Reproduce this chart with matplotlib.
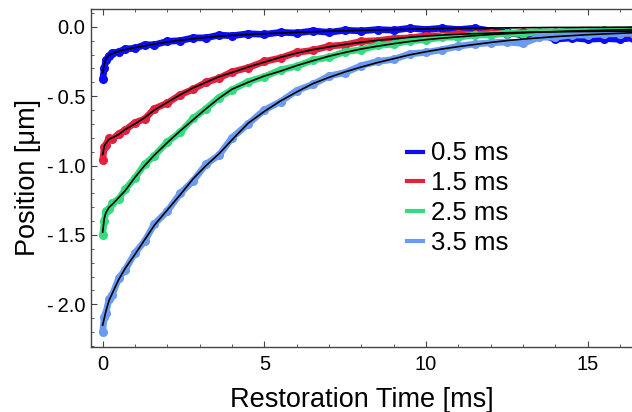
import matplotlib
matplotlib.use("Agg")
import matplotlib.pyplot as plt
from matplotlib.lines import Line2D
from matplotlib.ticker import MultipleLocator, FuncFormatter

plt.rcParams['font.family'] = ['Liberation Sans', 'DejaVu Sans']

# restoration time samples [ms]
t = [0, 0.05, 0.1, 0.2, 0.3, 0.5, 0.7, 1.0, 1.3, 1.6, 2.0, 2.4, 2.8, 3.2, 3.6,
     4.0, 4.5, 5, 5.5, 6, 6.5, 7, 7.5, 8, 8.5, 9, 9.5, 10, 10.5, 11, 11.5, 12,
     12.5, 13, 13.5, 14, 14.5, 15, 15.5, 16, 16.4]

labels = ["0.5 ms", "1.5 ms", "2.5 ms", "3.5 ms"]
colors = ["#0c0cf5", "#e3213f", "#36db7e", "#6a9bf0"]

# measured positions [um]
data_05 = [-0.38, -0.30, -0.24, -0.21, -0.19, -0.18, -0.16, -0.155, -0.13, -0.13,
           -0.105, -0.10, -0.08, -0.08, -0.06, -0.065, -0.05, -0.055, -0.04,
           -0.045, -0.03, -0.04, -0.025, -0.03, -0.02, -0.025, -0.01, -0.02,
           -0.01, -0.02, -0.01, -0.03, -0.04, -0.06, -0.05, -0.09, -0.08, -0.09,
           -0.085, -0.09, -0.08]
data_15 = [-0.96, -0.87, -0.85, -0.80, -0.81, -0.77, -0.745, -0.69, -0.665, -0.59,
           -0.55, -0.49, -0.45, -0.40, -0.37, -0.325, -0.295, -0.25, -0.225,
           -0.185, -0.17, -0.14, -0.13, -0.105, -0.10, -0.085, -0.08, -0.065,
           -0.065, -0.05, -0.055, -0.045, -0.05, -0.04, -0.05, -0.045, -0.05,
           -0.05, -0.055, -0.05, -0.05]
data_25 = [-1.50, -1.40, -1.33, -1.31, -1.27, -1.24, -1.17, -1.09, -0.99, -0.93,
           -0.83, -0.76, -0.66, -0.59, -0.51, -0.455, -0.395, -0.36, -0.31,
           -0.285, -0.24, -0.22, -0.18, -0.165, -0.135, -0.125, -0.10, -0.095,
           -0.075, -0.075, -0.06, -0.06, -0.045, -0.05, -0.035, -0.04, -0.03,
           -0.035, -0.025, -0.03, -0.02]
data_35 = [-2.20, -2.09, -2.06, -1.96, -1.93, -1.81, -1.75, -1.63, -1.545, -1.42,
           -1.33, -1.20, -1.11, -0.99, -0.925, -0.80, -0.70, -0.60, -0.54, -0.46,
           -0.415, -0.355, -0.33, -0.28, -0.25, -0.235, -0.195, -0.185, -0.165,
           -0.14, -0.125, -0.115, -0.11, -0.12, -0.075, -0.075, -0.06, -0.06,
           -0.05, -0.05, -0.045]

# fitted curves [um]
fit_05 = [-0.33, -0.27, -0.23, -0.205, -0.195, -0.175, -0.165, -0.15, -0.138,
          -0.125, -0.11, -0.097, -0.086, -0.077, -0.068, -0.062, -0.056, -0.05,
          -0.045, -0.04, -0.036, -0.032, -0.029, -0.026, -0.023, -0.02, -0.018,
          -0.015, -0.013, -0.011, -0.01, -0.009, -0.008, -0.007, -0.006, -0.005,
          -0.005, -0.004, -0.004, -0.003, -0.003]
fit_15 = [-0.92, -0.86, -0.84, -0.81, -0.80, -0.775, -0.74, -0.70, -0.655, -0.60,
          -0.545, -0.49, -0.44, -0.40, -0.36, -0.33, -0.29, -0.255, -0.22, -0.19,
          -0.165, -0.145, -0.127, -0.112, -0.098, -0.087, -0.076, -0.067, -0.06,
          -0.054, -0.05, -0.046, -0.043, -0.04, -0.038, -0.036, -0.035, -0.034,
          -0.033, -0.032, -0.031]
fit_25 = [-1.48, -1.38, -1.34, -1.30, -1.28, -1.23, -1.18, -1.085, -1.00, -0.925,
          -0.835, -0.75, -0.67, -0.59, -0.515, -0.45, -0.40, -0.355, -0.32, -0.28,
          -0.245, -0.212, -0.185, -0.16, -0.14, -0.122, -0.106, -0.093, -0.082,
          -0.073, -0.064, -0.056, -0.05, -0.044, -0.039, -0.035, -0.031, -0.028,
          -0.025, -0.022, -0.02]
fit_35 = [-2.15, -2.10, -2.05, -1.97, -1.92, -1.82, -1.74, -1.64, -1.535, -1.43,
          -1.32, -1.21, -1.095, -1.00, -0.915, -0.815, -0.695, -0.61, -0.535,
          -0.47, -0.41, -0.365, -0.325, -0.29, -0.258, -0.23, -0.202, -0.18,
          -0.16, -0.143, -0.128, -0.113, -0.10, -0.089, -0.08, -0.071, -0.064,
          -0.057, -0.052, -0.047, -0.043]

series = [data_05, data_15, data_25, data_35]
fits = [fit_05, fit_15, fit_25, fit_35]

fig = plt.figure(figsize=(6.32, 4.12), dpi=100)
ax = fig.add_axes([0.1435, 0.158, 0.8565, 0.820])

for y, c in zip(series, colors):
    ax.plot(t, y, color=c, lw=4.8, solid_capstyle='round', solid_joinstyle='round',
            marker='o', ms=5.5, mec=c, zorder=2)
for f in fits:
    ax.plot(t, f, color='black', lw=1.2, zorder=3)

ax.set_xlim(-0.37, 16.37)
ax.set_ylim(-2.307, 0.1275)
ax.xaxis.set_major_locator(MultipleLocator(5))
ax.xaxis.set_minor_locator(MultipleLocator(1))
ax.yaxis.set_major_locator(MultipleLocator(0.5))
ax.yaxis.set_minor_locator(MultipleLocator(0.1))
ax.yaxis.set_major_formatter(FuncFormatter(
    lambda v, p: ("-\u2009%.1f" % abs(v)) if v < -1e-9 else "%.1f" % abs(v)))

ax.spines['right'].set_visible(False)
for s in ['left', 'bottom', 'top']:
    ax.spines[s].set_color('#444444')
    ax.spines[s].set_linewidth(1.0)
ax.tick_params(which='both', direction='in', top=True, right=False,
               color='#444444', labelsize=14.5)
ax.tick_params(which='major', length=4, width=0.8, pad=4)
ax.tick_params(which='minor', length=2.2, width=0.6)
ax.tick_params(axis='x', which='major', pad=6)

ax.set_xlabel("Restoration Time [ms]", fontsize=19.5, labelpad=9)
ax.set_ylabel("Position [μm]", fontsize=19.5, labelpad=4)

handles = [Line2D([0], [0], color=c, lw=3) for c in colors]
ax.legend(handles, labels, loc='upper left', bbox_to_anchor=(0.584, 0.608),
          frameon=False, fontsize=18.5, handlelength=0.62, handletextpad=0.31,
          labelspacing=0.23, borderaxespad=0, borderpad=0)

fig.savefig("out.png", dpi=100)
